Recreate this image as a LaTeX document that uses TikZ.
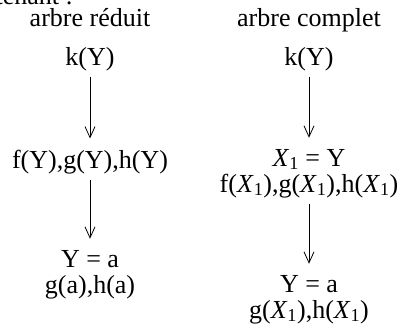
\documentclass[tikz,border=0pt]{standalone}
\usepackage{fontspec}
\setmainfont{Liberation Serif}
\usetikzlibrary{arrows.meta}

\begin{document}
\begin{tikzpicture}[x=1pt, y=-1pt,
    lbl/.style={font=\fontsize{26}{26}\selectfont, align=center, inner sep=0pt, anchor=base},
    arr/.style={-{Straight Barb[length=11pt, width=10pt]}, line width=0.8pt, shorten <=6pt, shorten >=11pt}]

    % Frame of the picture
    \useasboundingbox (0,0) rectangle (401,327);

    % 1. Text cut off by the top edge
    \node[lbl, anchor=base east] (intro) at (73,4) {maintenant :};

    % 2. Titles of the two trees
    \node[lbl] (titleL) at (90,26) {arbre réduit};
    \node[lbl] (titleR) at (309,26) {arbre complet};

    % 3. Reduced tree (left), base = last line
    \node[lbl] (kL) at (90,65) {k(Y)};
    \node[lbl] (fL) at (90,168) {f(Y),g(Y),h(Y)};
    \node[lbl] (aL) at (90,293) {Y = a\\g(a),h(a)};

    % 4. Complete tree (right)
    \node[lbl] (kR) at (309,65) {k(Y)};
    \node[lbl] (fR) at (309,192) {\textit{X}\textsubscript{1} = Y\\f(\textit{X}\textsubscript{1}),g(\textit{X}\textsubscript{1}),h(\textit{X}\textsubscript{1})};
    \node[lbl] (aR) at (309,318) {Y = a\\g(\textit{X}\textsubscript{1}),h(\textit{X}\textsubscript{1})};

    % 5. Arrows
    \draw[arr] (kL) -- (fL);
    \draw[arr] (fL) -- (aL);
    \draw[arr] (kR) -- (fR);
    \draw[arr] (fR) -- (aR);

\end{tikzpicture}
\end{document}
